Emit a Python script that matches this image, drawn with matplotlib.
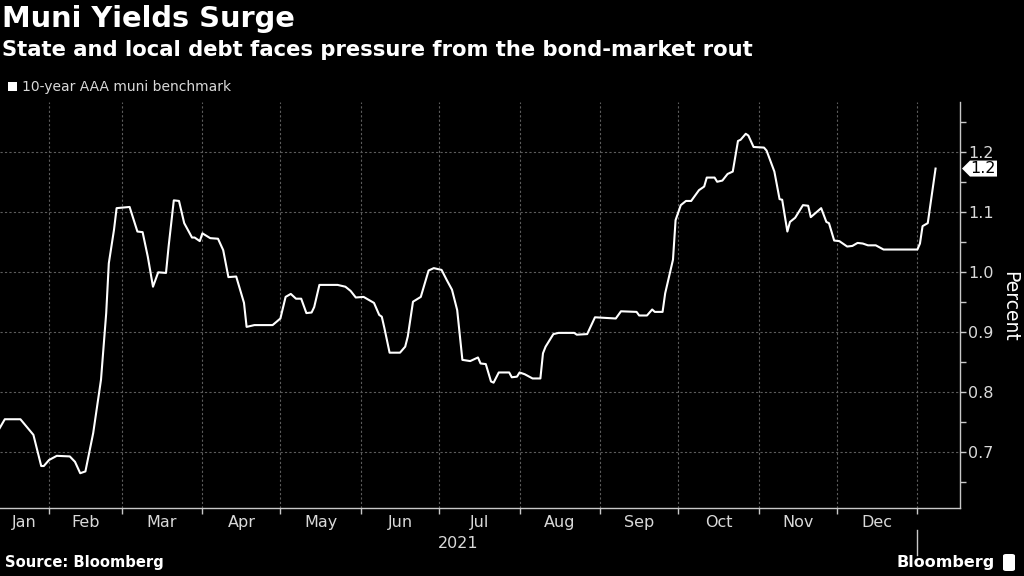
import matplotlib
matplotlib.use('Agg')
import matplotlib.pyplot as plt
import matplotlib.dates as mdates
import matplotlib.transforms as mtransforms
from matplotlib.patches import Polygon, Rectangle, FancyBboxPatch
from matplotlib.ticker import FixedLocator, FixedFormatter, NullFormatter, FormatStrFormatter
import pandas as pd
from datetime import datetime

# ---------------- data ----------------
dates = [
    "2021-01-13", "2021-01-15", "2021-01-21", "2021-01-26", "2021-01-29", "2021-01-30",
    "2021-02-01", "2021-02-04", "2021-02-09", "2021-02-11", "2021-02-13", "2021-02-15",
    "2021-02-18", "2021-02-21", "2021-02-23", "2021-02-24", "2021-02-26", "2021-02-27",
    "2021-03-04", "2021-03-07", "2021-03-09", "2021-03-11", "2021-03-13", "2021-03-15",
    "2021-03-18", "2021-03-19", "2021-03-21", "2021-03-23", "2021-03-25", "2021-03-28",
    "2021-03-29", "2021-03-31", "2021-04-01", "2021-04-04", "2021-04-07", "2021-04-09",
    "2021-04-11", "2021-04-14", "2021-04-17", "2021-04-18", "2021-04-21", "2021-04-28",
    "2021-05-01", "2021-05-03", "2021-05-05", "2021-05-07", "2021-05-09", "2021-05-11",
    "2021-05-13", "2021-05-14", "2021-05-16", "2021-05-23", "2021-05-26", "2021-05-28",
    "2021-05-30", "2021-06-02", "2021-06-06", "2021-06-08", "2021-06-09", "2021-06-10",
    "2021-06-12", "2021-06-16", "2021-06-18", "2021-06-19", "2021-06-21", "2021-06-24",
    "2021-06-27", "2021-06-29", "2021-07-02", "2021-07-04", "2021-07-06", "2021-07-08",
    "2021-07-10", "2021-07-13", "2021-07-16", "2021-07-17", "2021-07-19", "2021-07-21",
    "2021-07-22", "2021-07-24", "2021-07-28", "2021-07-29", "2021-07-31", "2021-08-01",
    "2021-08-03", "2021-08-06", "2021-08-09", "2021-08-10", "2021-08-11", "2021-08-14",
    "2021-08-16", "2021-08-22", "2021-08-23", "2021-08-27", "2021-08-30", "2021-09-07",
    "2021-09-09", "2021-09-15", "2021-09-16", "2021-09-19", "2021-09-21", "2021-09-22",
    "2021-09-25", "2021-09-26", "2021-09-29", "2021-09-30", "2021-10-02", "2021-10-04",
    "2021-10-06", "2021-10-09", "2021-10-11", "2021-10-12", "2021-10-15", "2021-10-16",
    "2021-10-18", "2021-10-20", "2021-10-22", "2021-10-24", "2021-10-25", "2021-10-27",
    "2021-10-28", "2021-10-30", "2021-11-03", "2021-11-04", "2021-11-07", "2021-11-09",
    "2021-11-10", "2021-11-12", "2021-11-13", "2021-11-15", "2021-11-18", "2021-11-20",
    "2021-11-21", "2021-11-25", "2021-11-27", "2021-11-28", "2021-11-30", "2021-12-02",
    "2021-12-05", "2021-12-07", "2021-12-09", "2021-12-11", "2021-12-13", "2021-12-16",
    "2021-12-19", "2021-12-28", "2022-01-01", "2022-01-02", "2022-01-03", "2022-01-05",
    "2022-01-08",
]
yields = [
    0.739, 0.754, 0.754, 0.728, 0.676, 0.676,
    0.686, 0.693, 0.692, 0.683, 0.664, 0.667,
    0.731, 0.820, 0.931, 1.014, 1.070, 1.106,
    1.108, 1.067, 1.066, 1.025, 0.975, 0.999,
    0.998, 1.042, 1.119, 1.118, 1.081, 1.057,
    1.057, 1.051, 1.064, 1.056, 1.055, 1.036,
    0.991, 0.992, 0.948, 0.908, 0.911, 0.911,
    0.922, 0.958, 0.963, 0.955, 0.955, 0.931,
    0.932, 0.941, 0.978, 0.978, 0.975, 0.968,
    0.957, 0.958, 0.948, 0.928, 0.925, 0.906,
    0.865, 0.865, 0.875, 0.892, 0.950, 0.958,
    1.002, 1.006, 1.003, 0.986, 0.970, 0.936,
    0.853, 0.851, 0.857, 0.847, 0.846, 0.817,
    0.815, 0.832, 0.832, 0.824, 0.825, 0.832,
    0.829, 0.822, 0.822, 0.864, 0.875, 0.896,
    0.898, 0.898, 0.895, 0.896, 0.924, 0.922,
    0.934, 0.933, 0.927, 0.927, 0.937, 0.933,
    0.933, 0.964, 1.020, 1.086, 1.111, 1.118,
    1.118, 1.136, 1.142, 1.157, 1.157, 1.150,
    1.152, 1.163, 1.167, 1.218, 1.220, 1.230,
    1.227, 1.208, 1.207, 1.202, 1.167, 1.121,
    1.120, 1.067, 1.083, 1.090, 1.111, 1.110,
    1.091, 1.106, 1.083, 1.081, 1.052, 1.051,
    1.042, 1.043, 1.048, 1.047, 1.044, 1.044,
    1.037, 1.037, 1.037, 1.047, 1.076, 1.081,
    1.172,
]
month_labels = ["Jan", "Feb", "Mar", "Apr", "May", "Jun",
                "Jul", "Aug", "Sep", "Oct", "Nov", "Dec"]
y_ticks = [0.7, 0.8, 0.9, 1.0, 1.1, 1.2]
y_minor_ticks = [0.65, 0.75, 0.85, 0.95, 1.05, 1.15, 1.25]
year_label = "2021"
title = "Muni Yields Surge"
subtitle = "State and local debt faces pressure from the bond-market rout"
series_name = "10-year AAA muni benchmark"
source = "Source: Bloomberg"
y_label = "Percent"

# ---------------- style ----------------
BG = "black"
FG = "white"
TXT = "#d9d9d9"
SPINE = "#c8c8c8"
GRID = "#5c5c5c"
W, H = 1024, 576

x = mdates.date2num(pd.to_datetime(dates).to_pydatetime())

fig = plt.figure(figsize=(W / 100, H / 100), dpi=100, facecolor=BG)
ax = fig.add_axes([0, (H - 508) / H, 960 / W, 406 / H])
ax.set_facecolor(BG)

ax.plot(x, yields, color=FG, lw=1.5, solid_joinstyle="round", zorder=3)

base = mdates.date2num(datetime(2021, 1, 1))
x0, x1 = base + 12.15, base + 381.4
ax.set_xlim(x0, x1)
ax.set_ylim(0.606, 1.283)

# month boundaries and label positions
starts = [mdates.date2num(datetime(2021, m, 1)) for m in range(1, 13)]
ends = starts[1:] + [mdates.date2num(datetime(2022, 1, 1))]
bounds = ends
mids = [(max(s, x0) + e) / 2 for s, e in zip(starts, ends)]

ax.xaxis.set_major_locator(FixedLocator(bounds))
ax.xaxis.set_major_formatter(NullFormatter())
ax.xaxis.set_minor_locator(FixedLocator(mids))
ax.xaxis.set_minor_formatter(FixedFormatter(month_labels))
ax.tick_params(axis="x", which="major", direction="out", length=4, width=1, color=SPINE)
ax.tick_params(axis="x", which="minor", length=0, pad=5, labelsize=11.5, labelcolor=TXT)

ax.yaxis.tick_right()
ax.yaxis.set_major_locator(FixedLocator(y_ticks))
ax.yaxis.set_major_formatter(FormatStrFormatter("%.1f"))
ax.yaxis.set_minor_locator(FixedLocator(y_minor_ticks))
ax.tick_params(axis="y", which="both", direction="out", length=4, width=1, color=SPINE,
               labelsize=11.5, labelcolor=TXT, pad=2)

ax.grid(True, which="major", axis="both", color=GRID, lw=0.8, ls=(0, (2, 2)))
ax.set_axisbelow(True)

for s in ["left", "top"]:
    ax.spines[s].set_visible(False)
for s in ["right", "bottom"]:
    ax.spines[s].set_color(SPINE)
    ax.spines[s].set_linewidth(1)

# year label and separator
blend = mtransforms.blended_transform_factory(ax.transData, ax.transAxes)
ax.text((x0 + ends[-1]) / 2, -35 / 406, year_label, transform=blend, ha="center",
        va="center", color=TXT, fontsize=11.5)
ax.plot([ends[-1], ends[-1]], [-22 / 406, -47 / 406], transform=blend, color=SPINE,
        lw=1, clip_on=False)

# y label
fig.text(1010 / W, 1 - 306 / H, y_label, rotation=270, ha="center", va="center",
         color=FG, fontsize=13.5)

# last value label
last = yields[-1]
anchor = mtransforms.blended_transform_factory(ax.transAxes, ax.transData)
tr = mtransforms.Affine2D().scale(1, -1) + mtransforms.ScaledTranslation(1.0, last, anchor)
poly = Polygon([(2, 0), (10, -8), (37, -8), (37, 8), (10, 8)], closed=True,
               transform=tr, facecolor=FG, edgecolor="none", clip_on=False, zorder=5)
ax.add_patch(poly)
ax.text(1.0, last, "%.1f" % last, transform=anchor + mtransforms.Affine2D().translate(23, 0),
        ha="center", va="center", color="black", fontsize=11.5, zorder=6, clip_on=False)

# titles
fig.text(2 / W, 1 - 19 / H, title, ha="left", va="center", color=FG,
         fontsize=20.8, fontweight="bold")
fig.text(2 / W, 1 - 50 / H, subtitle, ha="left", va="center", color=FG,
         fontsize=15.2, fontweight="bold")

# legend
fig.patches.append(Rectangle((8 / W, 1 - 90.5 / H), 8.5 / W, 8.5 / H, transform=fig.transFigure,
                             facecolor=FG, edgecolor="none"))
fig.text(22 / W, 1 - 86.5 / H, series_name, ha="left", va="center", color=TXT, fontsize=10)

# source + brand
fig.text(5 / W, 1 - 563 / H, source, ha="left", va="center", color=FG,
         fontsize=10.6, fontweight="bold")
fig.text(995 / W, 1 - 562 / H, "Bloomberg", ha="right", va="center", color=FG,
         fontsize=11.5, fontweight="bold")
fig.patches.append(FancyBboxPatch((1003 / W, 1 - 571 / H), 12 / W, 17 / H,
                                  boxstyle="round,pad=0,rounding_size=0.003",
                                  transform=fig.transFigure, facecolor=FG, edgecolor="none"))

fig.savefig("out.png", dpi=100, facecolor=BG)
